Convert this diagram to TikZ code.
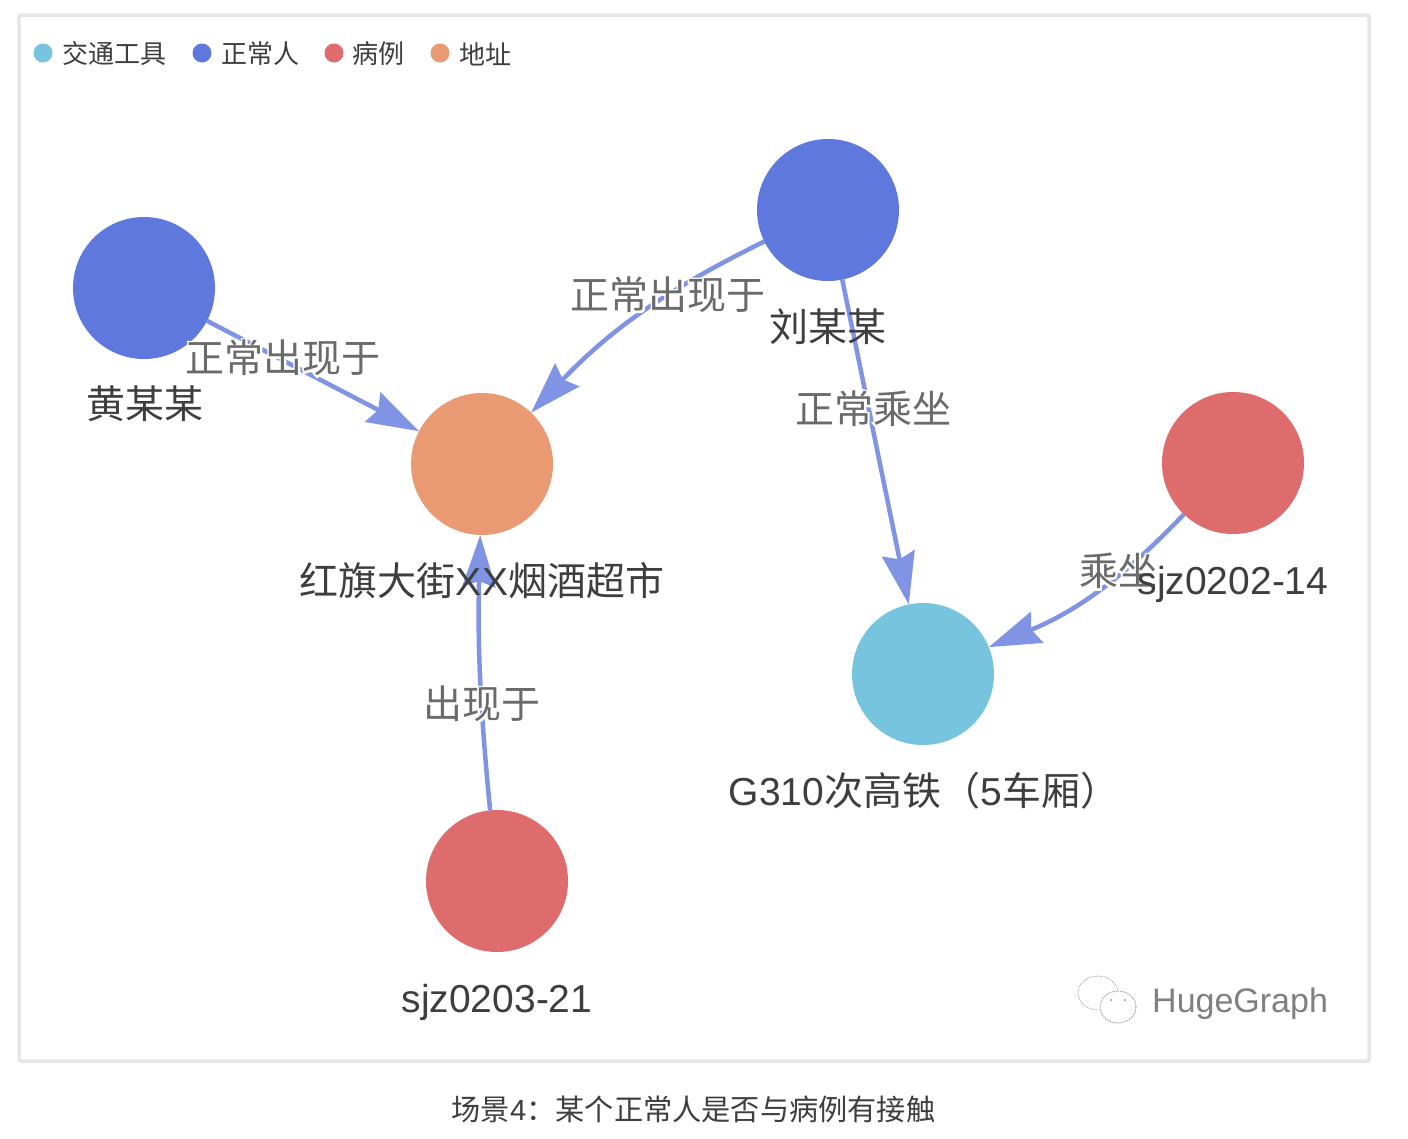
\documentclass[tikz,border=0pt]{standalone}
\usepackage{fontspec}
\usetikzlibrary{arrows.meta}
\setmainfont{Liberation Sans}
\newfontfamily\cjk{Noto Sans CJK SC}
\newfontfamily\halofont[FakeBold=10]{Noto Sans CJK SC}
\newcommand\halotext[1]{\rlap{{\halofont\color{white}#1}}#1}
\definecolor{cblue}{HTML}{5F78DE}
\definecolor{corange}{HTML}{EA9A72}
\definecolor{cred}{HTML}{DF6C6C}
\definecolor{ccyan}{HTML}{76C4DE}
\definecolor{cedge}{HTML}{8093E5}
\definecolor{clabel}{HTML}{3E3E3E}
\definecolor{cedgetext}{HTML}{6A6A6A}
\definecolor{cframe}{HTML}{E6E6E6}
\tikzset{
  x=1pt,y=-1pt,
  vertex/.style={circle,minimum size=142pt,inner sep=0pt,outer sep=0pt},
  keydot/.style={circle,minimum size=19pt,inner sep=0pt,outer sep=0pt},
  keytext/.style={anchor=west,inner sep=0pt,text=clabel,font=\fontsize{26}{27}\cjk},
  vlabel/.style={inner sep=0pt,text=clabel,font=\fontsize{39}{41}\selectfont},
  elabel/.style={inner sep=0pt,text=cedgetext,font=\fontsize{39}{41}\cjk},
  link/.style={draw=cedge,line width=4.5pt,-{Stealth[length=52pt,width=33pt,inset=6pt]}},
}
\begin{document}
\begin{tikzpicture}
\useasboundingbox (0,0) rectangle (1408,1138);
\fill[white] (0,0) rectangle (1408,1138);
\draw[cframe,line width=3.5pt,rounded corners=2pt] (19,15) rectangle (1369,1061);
% legend
\node[keydot,fill=ccyan] (k1) at (43,53) {};
\node[keytext] (kt1) at (62,54) {交通工具};
\node[keydot,fill=cblue] (k2) at (202,53) {};
\node[keytext] (kt2) at (221,54) {正常人};
\node[keydot,fill=cred] (k3) at (334,53) {};
\node[keytext] (kt3) at (352,54) {病例};
\node[keydot,fill=corange] (k4) at (440,53) {};
\node[keytext] (kt4) at (459,54) {地址};
% vertices
\node[vertex,fill=cblue] (huang) at (144,288) {};
\node[vertex,fill=cblue] (liu) at (828,210) {};
\node[vertex,fill=corange] (addr) at (482,464) {};
\node[vertex,fill=cred] (caseA) at (1233,463) {};
\node[vertex,fill=ccyan] (train) at (923,674) {};
\node[vertex,fill=cred] (caseB) at (497,881) {};
% connectors
\draw[link] (huang) -- (addr);
\draw[link] (liu) to[bend right=10] (addr);
\draw[link] (liu) -- (train);
\draw[link] (caseA) to[bend left=12] (train);
\draw[link] (caseB) to[bend left=3.5] (addr);
% edge labels
\node[elabel] (e1) at (283,358) {\halotext{正常出现于}};
\node[elabel] (e2) at (668,295) {\halotext{正常出现于}};
\node[elabel] (e3) at (873,409) {\halotext{正常乘坐}};
\node[elabel] (e4) at (1118,571) {\halotext{乘坐}};
\node[elabel] (e5) at (482,704) {\halotext{出现于}};
% vertex labels
\node[vlabel,font=\fontsize{39}{41}\cjk] (l1) at (145,404) {黄某某};
\node[vlabel,font=\fontsize{39}{41}\cjk] (l2) at (828,327) {刘某某};
\node[vlabel] (l3) at (482,581) {{\cjk 红旗大街}XX{\cjk 烟酒超市}};
\node[vlabel] (l4) at (1233,584) {sjz0202-14};
\node[vlabel] (l5) at (924,791) {G310{\cjk 次高铁（}5{\cjk 车厢）}};
\node[vlabel] (l6) at (497,1002) {sjz0203-21};
% watermark
\draw[black!35,line width=.9pt,densely dotted] (1098,993) ellipse [x radius=20,y radius=17];
\draw[black!40,line width=1pt,densely dotted,fill=white] (1118,1007) ellipse [x radius=18,y radius=16];
\fill[black!40] (1111,1000) circle (1.2pt) (1125,1000) circle (1.2pt);
\node[inner sep=0pt,anchor=west,text=black!50,font=\fontsize{34}{36}\selectfont] (wm) at (1152,1004) {HugeGraph};
% caption
\node[inner sep=0pt,text=clabel,font=\fontsize{29.2}{30}\cjk] (cap) at (693.5,1109) {场景{\fontspec{Liberation Sans}4}：某个正常人是否与病例有接触};
\end{tikzpicture}
\end{document}
